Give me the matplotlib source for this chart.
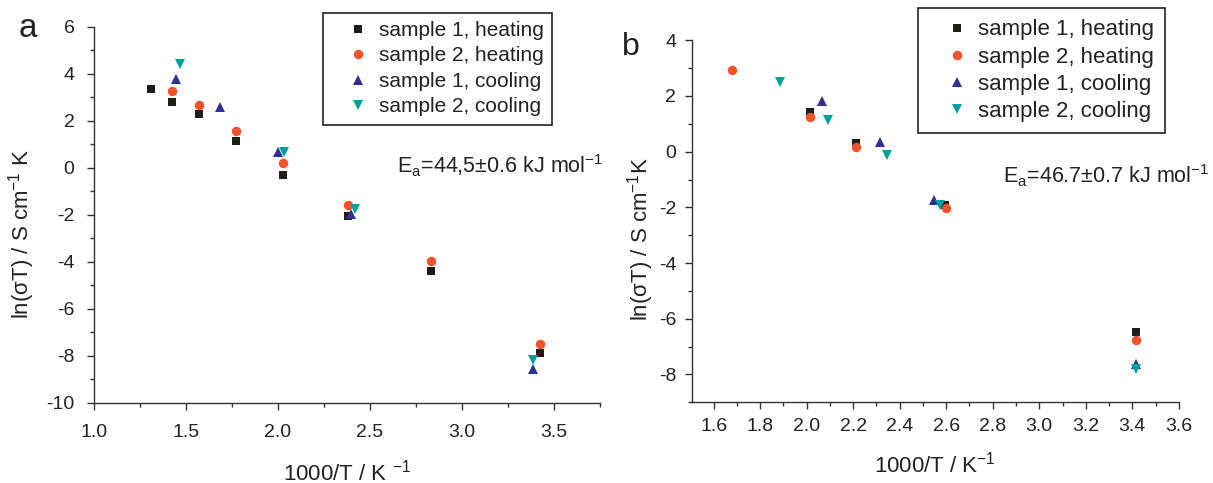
import matplotlib
matplotlib.use('Agg')
import matplotlib.pyplot as plt
from matplotlib.ticker import MultipleLocator, FormatStrFormatter

plt.rcParams['font.family'] = ['Liberation Sans', 'DejaVu Sans']
plt.rcParams['mathtext.fontset'] = 'custom'
plt.rcParams['mathtext.rm'] = 'Liberation Sans'
plt.rcParams['mathtext.it'] = 'Liberation Sans:italic'
plt.rcParams['mathtext.bf'] = 'Liberation Sans:bold'
plt.rcParams['axes.unicode_minus'] = False

series_labels = ['sample 1, heating', 'sample 2, heating', 'sample 1, cooling', 'sample 2, cooling']

# panel a
a_s1_heat_x = [1.312, 1.424, 1.569, 1.771, 2.027, 2.380, 2.830, 3.423]
a_s1_heat_y = [3.33, 2.78, 2.27, 1.15, -0.31, -2.06, -4.38, -7.89]
a_s2_heat_x = [1.424, 1.569, 1.771, 2.029, 2.380, 2.830, 3.423]
a_s2_heat_y = [3.28, 2.65, 1.57, 0.18, -1.57, -3.97, -7.49]
a_s1_cool_x = [1.445, 1.682, 1.998, 2.397, 3.388]
a_s1_cool_y = [3.79, 2.60, 0.68, -1.99, -8.55]
a_s2_cool_x = [1.466, 2.035, 2.417, 3.388]
a_s2_cool_y = [4.40, 0.65, -1.77, -8.18]

# panel b
b_s1_heat_x = [2.014, 2.211, 2.593, 3.414]
b_s1_heat_y = [1.42, 0.30, -1.91, -6.49]
b_s2_heat_x = [1.679, 2.014, 2.211, 2.597, 3.414]
b_s2_heat_y = [2.95, 1.25, 0.18, -2.02, -6.77]
b_s1_cool_x = [2.068, 2.315, 2.548, 3.414]
b_s1_cool_y = [1.83, 0.34, -1.73, -7.62]
b_s2_cool_x = [1.885, 2.092, 2.347, 2.575, 3.414]
b_s2_cool_y = [2.52, 1.14, -0.12, -1.91, -7.79]

markers = ['s', 'o', '^', 'v']
colors = ['#1d1d1b', '#f0532a', '#2e3192', '#00a19a']
msizes = [6.0, 6.8, 7.4, 7.4]

fig = plt.figure(figsize=(12.13, 4.83), dpi=100)
fig.patch.set_facecolor('white')
ax1 = fig.add_axes([0.0775, 0.1662, 0.4172, 0.7785])
ax2 = fig.add_axes([0.5701, 0.1670, 0.4017, 0.7496])

data_a = [(a_s1_heat_x, a_s1_heat_y), (a_s2_heat_x, a_s2_heat_y),
          (a_s1_cool_x, a_s1_cool_y), (a_s2_cool_x, a_s2_cool_y)]
data_b = [(b_s1_heat_x, b_s1_heat_y), (b_s2_heat_x, b_s2_heat_y),
          (b_s1_cool_x, b_s1_cool_y), (b_s2_cool_x, b_s2_cool_y)]

for ax, data in [(ax1, data_a), (ax2, data_b)]:
    for (x, y), m, c, ms, lab in zip(data, markers, colors, msizes, series_labels):
        ax.plot(x, y, linestyle='none', marker=m, color=c, markersize=ms,
                markeredgewidth=0, label=lab)
    ax.spines['top'].set_visible(False)
    ax.spines['right'].set_visible(False)
    for sp in ['left', 'bottom']:
        ax.spines[sp].set_color('#333333')
        ax.spines[sp].set_linewidth(1.0)
    ax.tick_params(which='both', direction='out', colors='#333333', labelcolor='#222222')
    ax.tick_params(which='major', length=5, width=1.0, labelsize=14)
    ax.tick_params(which='minor', length=3, width=1.0)
    ax.yaxis.set_major_locator(MultipleLocator(2))
    ax.yaxis.set_minor_locator(MultipleLocator(1))
    ax.yaxis.set_major_formatter(FormatStrFormatter('%d'))
    ax.xaxis.set_major_formatter(FormatStrFormatter('%.1f'))

ax1.set_xlim(1.0, 3.75)
ax1.set_ylim(-10, 6)
ax1.xaxis.set_major_locator(MultipleLocator(0.5))
ax1.xaxis.set_minor_locator(MultipleLocator(0.25))
ax1.tick_params(axis='x', pad=10)
ax1.tick_params(axis='y', pad=9)

ax2.set_xlim(1.505, 3.6)
ax2.set_ylim(-9, 4)
ax2.xaxis.set_major_locator(MultipleLocator(0.2))
ax2.xaxis.set_minor_locator(MultipleLocator(0.1))
ax2.tick_params(axis='x', pad=6)
ax2.tick_params(axis='y', pad=6)

ax1.set_ylabel(r'ln(σT) / S cm$\mathregular{^{-1}}$ K', fontsize=16, color='#222222')
ax1.yaxis.set_label_coords(-0.113, 0.45)
ax1.set_xlabel(r'1000/T / K $\mathregular{^{-1}}$', fontsize=16, color='#222222')
ax1.xaxis.set_label_coords(0.5, -0.15)

ax2.set_ylabel(r'ln(σT) / S cm$\mathregular{^{-1}}$K', fontsize=16, color='#222222')
ax2.yaxis.set_label_coords(-0.073, 0.451)
ax2.set_xlabel(r'1000/T / K$\mathregular{^{-1}}$', fontsize=16, color='#222222')
ax2.xaxis.set_label_coords(0.5, -0.135)

leg_kw = dict(loc='upper left', bbox_transform=fig.transFigure, borderaxespad=0,
              frameon=True, fancybox=False, labelcolor='#222222')
leg1 = ax1.legend(bbox_to_anchor=(0.266, 0.974), fontsize=15, labelspacing=0.31,
                  handlelength=2.57, handletextpad=-0.26, borderpad=0.4, **leg_kw)
leg2 = ax2.legend(bbox_to_anchor=(0.7568, 0.983), fontsize=16, labelspacing=0.28,
                  handlelength=2.51, handletextpad=-0.31, borderpad=0.5, **leg_kw)
for leg in (leg1, leg2):
    fr = leg.get_frame()
    fr.set_edgecolor('#222222')
    fr.set_linewidth(1.2)
    fr.set_alpha(1)

fig.text(0.327, 0.642, r'E$\mathregular{_a}$=44,5±0.6 kJ mol$\mathregular{^{-1}}$',
         fontsize=15.5, va='baseline', ha='left', color='#222222')
fig.text(0.827, 0.621, r'E$\mathregular{_a}$=46.7±0.7 kJ mol$\mathregular{^{-1}}$',
         fontsize=15.5, va='baseline', ha='left', color='#222222')

fig.text(0.0157, 0.923, 'a', fontsize=24, va='baseline', ha='left', color='#222222')
fig.text(0.5125, 0.886, 'b', fontsize=23, va='baseline', ha='left', color='#222222')

fig.savefig('out.png', dpi=100)
